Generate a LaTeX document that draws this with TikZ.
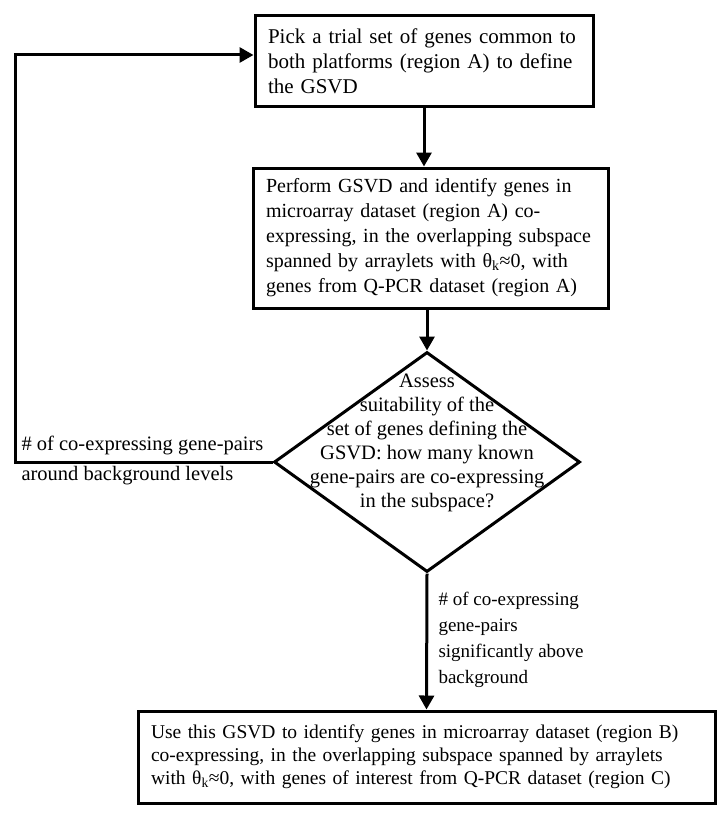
\documentclass[tikz,border=0pt]{standalone}
\usepackage{fontspec}
\setmainfont{Liberation Serif}
\usetikzlibrary{shapes.geometric,arrows.meta}
\begin{document}
\begin{tikzpicture}[x=1pt,y=-1pt,line width=3pt,
  box/.style={draw,rectangle,inner xsep=13pt,inner ysep=0pt,align=left,font=\fontsize{20}{25}\selectfont},
  decision/.style={draw,diamond,minimum width=306pt,minimum height=220pt,inner sep=0pt,aspect=1.39},
  note/.style={align=left,inner sep=0pt,font=\fontsize{19}{26}\selectfont},
  flow/.style={-{Triangle[length=14pt,width=15pt]}}]
\useasboundingbox (0,0) rectangle (720,816);
\node[box,text width=312pt,minimum height=91pt,font=\fontsize{21}{25}\selectfont] (pick) at (424,61) {Pick a trial set of genes common to\\ both platforms (region A) to define\\ the GSVD};
\node[box,text width=329pt,minimum height=140pt] (perform) at (430.5,238) {Perform GSVD and identify genes in\\ microarray dataset (region A) co-\\ expressing, in the overlapping subspace\\ spanned by arraylets with θ\textsubscript{k}≈0, with\\ genes from Q-PCR dataset (region A)};
\node[decision] (test) at (427,462) {};
\node[align=center,inner sep=0pt,font=\fontsize{20.5}{24}\selectfont] (testtext) at (427,443) {Assess\\ suitability of the\\ set of genes defining the\\ GSVD: how many known\\ gene-pairs are co-expressing\\ in the subspace?};
\node[box,text width=551pt,minimum height=92pt,font=\fontsize{19.5}{23}\selectfont] (use) at (426.5,757) {Use this GSVD to identify genes in microarray dataset (region B)\\ co-expressing, in the overlapping subspace spanned by arraylets\\ with θ\textsubscript{k}≈0, with genes of interest from Q-PCR dataset (region C)};
\coordinate (corner) at (15,55);
\draw[flow] (pick.south) -- (pick.south |- perform.north);
\draw[flow] (test.north |- perform.south) -- (test.north);
\draw[flow] (test.west) -| (corner) -- (corner -| pick.west);
\draw[flow] (test.south) -- (use.north);
\node[note,anchor=west,font=\fontsize{20.5}{26}\selectfont] (low) at (20,460) {\# of co-expressing gene-pairs\\[4pt] around background levels};
\node[note,anchor=west] (high) at (437,640) {\# of co-expressing\\ gene-pairs\\ significantly above\\ background};
\end{tikzpicture}
\end{document}
